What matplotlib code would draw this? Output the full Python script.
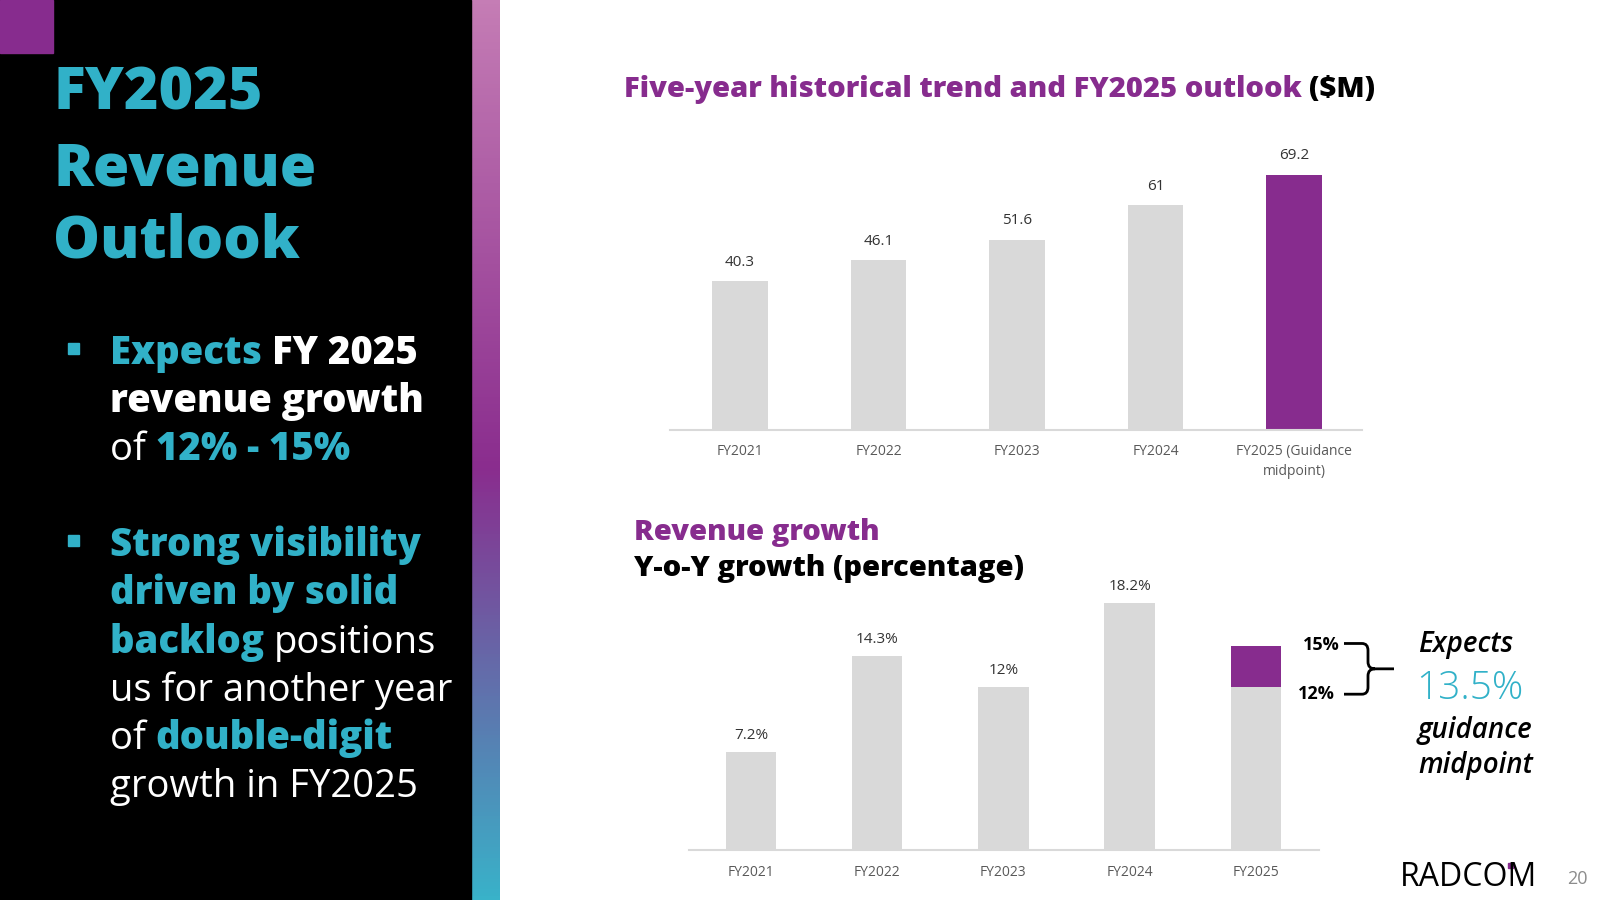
import numpy as np
import matplotlib
matplotlib.use("Agg")
import matplotlib.pyplot as plt
from matplotlib.colors import LinearSegmentedColormap
from matplotlib.patches import Rectangle, PathPatch
from matplotlib.path import Path

# data
rev_labels = ["FY2021", "FY2022", "FY2023", "FY2024", "FY2025 (Guidance\nmidpoint)"]
revenue = [40.3, 46.1, 51.6, 61, 69.2]
growth_labels = ["FY2021", "FY2022", "FY2023", "FY2024", "FY2025"]
growth = [7.2, 14.3, 12, 18.2]
guid_low = 12
guid_high = 15
guid_mid = 13.5

TEAL = "#31B1C8"
PURPLE = "#872C8E"
GREY = "#D9D9D9"
HEAVY = 800

plt.rcParams["font.family"] = ["Open Sans", "DejaVu Sans"]

fig = plt.figure(figsize=(16, 9), dpi=100)
renderer = fig.canvas.get_renderer()

# page background in pixel coords (y down)
bg = fig.add_axes([0, 0, 1, 1])
bg.axis("off")
bg.add_patch(Rectangle((0, 0), 471, 900, color="black"))
bg.add_patch(Rectangle((0, 0), 53, 53, color=PURPLE))
grad = LinearSegmentedColormap.from_list(
    "side", [(0, "#C57DB5"), (0.52, "#8A2D8E"), (1, "#39B2C9")])
bg.imshow(np.linspace(0, 1, 256)[:, None], cmap=grad, aspect="auto",
          extent=(471, 500, 900, 0))
bg.set_xlim(0, 1600)
bg.set_ylim(900, 0)


def runs(x, y, parts, size, **kw):
    for text, color, weight in parts:
        t = bg.text(x, y, text, color=color, fontsize=size, fontweight=weight,
                    va="baseline", ha="left", **kw)
        x += t.get_window_extent(renderer).width


# left panel
for txt, yb in [("FY2025", 110), ("Revenue", 185), ("Outlook", 258)]:
    runs(53, yb, [(txt, TEAL, HEAVY)], 42.5)

bsize = 27.5
bg.add_patch(Rectangle((68, 343), 11, 11, color=TEAL))
runs(110, 364, [("Expects ", TEAL, HEAVY), ("FY 2025", "white", HEAVY)], bsize)
runs(110, 412, [("revenue growth", "white", HEAVY)], bsize)
runs(110, 460, [("of ", "white", "normal"), ("12% - 15%", TEAL, HEAVY)], bsize)

bg.add_patch(Rectangle((68, 535), 11, 11, color=TEAL))
runs(110, 556, [("Strong visibility", TEAL, HEAVY)], bsize)
runs(110, 604, [("driven by solid", TEAL, HEAVY)], bsize)
runs(110, 653, [("backlog ", TEAL, HEAVY), ("positions", "white", "normal")], bsize)
runs(110, 701, [("us for another year", "white", "normal")], bsize)
runs(110, 749, [("of ", "white", "normal"), ("double-digit", TEAL, HEAVY)], bsize)
runs(110, 797, [("growth in FY2025", "white", "normal")], bsize)

# chart titles
runs(624, 97, [("Five-year historical trend and FY2025 outlook ", PURPLE, HEAVY),
               ("($M)", "black", HEAVY)], 21)
runs(634, 540, [("Revenue growth", PURPLE, HEAVY)], 21)
runs(634, 576, [("Y-o-Y growth (percentage)", "black", HEAVY)], 21)

# top chart: revenue
ax1 = fig.add_axes([670 / 1600, 1 - 430 / 900, 692 / 1600, 280 / 900])
x = np.arange(len(revenue))
ax1.bar(x, revenue, width=0.4, color=[GREY] * 4 + [PURPLE])
for i, v in enumerate(revenue):
    ax1.annotate(f"{v:g}", (i, v), xytext=(0, 13.5), textcoords="offset points",
                 ha="center", va="center", fontsize=11, color="#333333")
ax1.set_xlim(-0.505, 4.49)
ax1.set_ylim(0, 75.9)

# bottom chart: growth
ax2 = fig.add_axes([689 / 1600, 1 - 850 / 900, 630 / 1600, 270 / 900])
x2 = np.arange(len(growth))
ax2.bar(x2, growth, width=0.4, color=GREY)
ax2.bar(4, guid_low, width=0.4, color=GREY)
ax2.bar(4, guid_high - guid_low, bottom=guid_low, width=0.4, color=PURPLE)
for i, v in enumerate(growth):
    ax2.annotate(f"{v:g}%", (i, v), xytext=(0, 12), textcoords="offset points",
                 ha="center", va="center", fontsize=11, color="#333333")
ax2.set_xlim(-0.49, 4.5)
ax2.set_ylim(0, 19.9)

for ax, labels, pad in [(ax1, rev_labels, 10), (ax2, growth_labels, 11)]:
    ax.set_xticks(range(len(labels)), labels, fontsize=10, color="#595959")
    ax.tick_params(axis="x", length=0, pad=pad)
    ax.set_yticks([])
    for s in ["left", "right", "top"]:
        ax.spines[s].set_visible(False)
    ax.spines["bottom"].set_color(GREY)
    ax.spines["bottom"].set_linewidth(1.5)
    ax.patch.set_alpha(0)
for t in ax1.get_xticklabels():
    t.set_linespacing(1.5)

# guidance bracket, tied to the growth axis
y_hi = 900 - ax2.transData.transform((0, guid_high))[1] - 3
y_lo = 900 - ax2.transData.transform((0, guid_low))[1] + 7
y_md = (y_hi + y_lo) / 2
bg.text(1340, y_hi + 2, f"{guid_high}%", ha="right", va="center", fontsize=13,
        fontweight="bold", color="black")
bg.text(1335, y_lo, f"{guid_low}%", ha="right", va="center", fontsize=13,
        fontweight="bold", color="black")
xa, xb, xt = 1344, 1368, 1394
verts = [(xa, y_hi), (xb - 6, y_hi), (xb, y_hi), (xb, y_hi + 7),
         (xb, y_md - 7), (xb, y_md), (xb + 7, y_md), (xt, y_md),
         (xb + 7, y_md), (xb, y_md), (xb, y_md + 7), (xb, y_lo - 7),
         (xb, y_lo), (xb - 6, y_lo), (xa, y_lo)]
codes = [Path.MOVETO, Path.LINETO, Path.CURVE3, Path.CURVE3,
         Path.LINETO, Path.CURVE3, Path.CURVE3, Path.LINETO,
         Path.MOVETO, Path.CURVE3, Path.CURVE3, Path.LINETO,
         Path.CURVE3, Path.CURVE3, Path.LINETO]
bg.add_patch(PathPatch(Path(verts, codes), fill=False, lw=2, color="black"))

note = dict(style="italic", fontsize=20, fontweight="semibold", color="black",
            va="baseline")
bg.text(1418, 652, "Expects", **note)
bg.text(1416, 699, f"{guid_mid}%", fontsize=28, color=TEAL, va="baseline",
        fontweight="light")
bg.text(1418, 738, "guidance", **note)
bg.text(1418, 773, "midpoint", **note)

# footer
bg.text(1400, 886, "RADCOM", fontsize=23, fontweight="normal", color="black",
        va="baseline")
bg.add_patch(Rectangle((1508, 863), 5, 5, color=PURPLE))
bg.text(1567, 884, "20", fontsize=13, color="#8C8C8C", va="baseline")

fig.savefig("out.png", dpi=100)
